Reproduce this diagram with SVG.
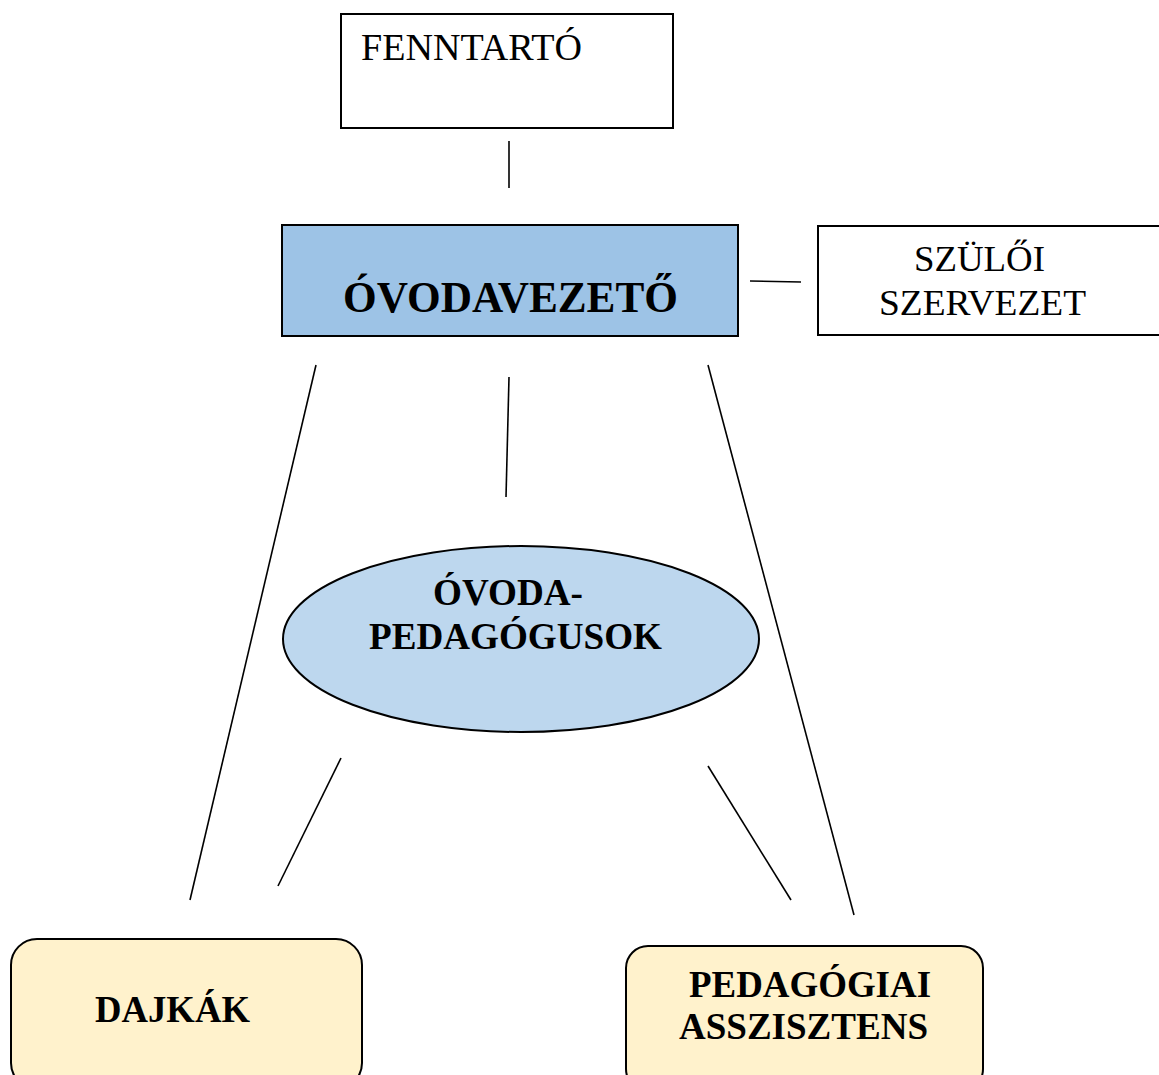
<svg xmlns="http://www.w3.org/2000/svg" width="1159" height="1075" viewBox="0 0 1159 1075">
<style>
.box{stroke:#000;stroke-width:2}
.t{font-family:"Liberation Serif","Times New Roman",serif;fill:#000}
.b{font-weight:bold}
.c line{stroke:#000;stroke-width:1.6}
</style>
<rect width="1159" height="1075" fill="#fff"/>
<g id="fenntarto">
<rect class="box" x="341" y="14" width="332" height="114" fill="#fff"/>
<text class="t" x="361" y="60" font-size="37" textLength="221" lengthAdjust="spacingAndGlyphs">FENNTARTÓ</text>
</g>
<g id="ovodavezeto">
<rect class="box" x="282" y="225" width="456" height="111" fill="#9DC3E6"/>
<text class="t b" x="343" y="312" font-size="44" textLength="335" lengthAdjust="spacingAndGlyphs">ÓVODAVEZETŐ</text>
</g>
<g id="szuloi">
<rect class="box" x="818" y="226" width="345" height="109" fill="#fff"/>
<text class="t" x="914" y="271" font-size="36" textLength="131" lengthAdjust="spacingAndGlyphs">SZÜLŐI</text>
<text class="t" x="879" y="315" font-size="36" textLength="207" lengthAdjust="spacingAndGlyphs">SZERVEZET</text>
</g>
<g id="pedagogusok">
<ellipse class="box" cx="521" cy="639" rx="238" ry="93" fill="#BDD7EE"/>
<text class="t b" x="433" y="605" font-size="37" textLength="150" lengthAdjust="spacingAndGlyphs">ÓVODA-</text>
<text class="t b" x="369" y="649" font-size="37" textLength="293" lengthAdjust="spacingAndGlyphs">PEDAGÓGUSOK</text>
</g>
<g id="dajkak">
<rect class="box" x="11" y="939" width="351" height="150" rx="26" fill="#FFF2CC"/>
<text class="t b" x="95" y="1022" font-size="37" textLength="155" lengthAdjust="spacingAndGlyphs">DAJKÁK</text>
</g>
<g id="asszisztens">
<rect class="box" x="626" y="946" width="357" height="145" rx="22" fill="#FFF2CC"/>
<text class="t b" x="689" y="997" font-size="37" textLength="242" lengthAdjust="spacingAndGlyphs">PEDAGÓGIAI</text>
<text class="t b" x="679" y="1039" font-size="37" textLength="249" lengthAdjust="spacingAndGlyphs">ASSZISZTENS</text>
</g>
<g id="connectors" class="c">
<line x1="509" y1="141" x2="509" y2="188"/>
<line x1="750" y1="281" x2="801" y2="282"/>
<line x1="316" y1="365" x2="190" y2="900"/>
<line x1="509" y1="377" x2="506" y2="497"/>
<line x1="708" y1="365" x2="854" y2="915"/>
<line x1="341" y1="758" x2="278" y2="886"/>
<line x1="708" y1="766" x2="791" y2="900"/>
</g>
</svg>
